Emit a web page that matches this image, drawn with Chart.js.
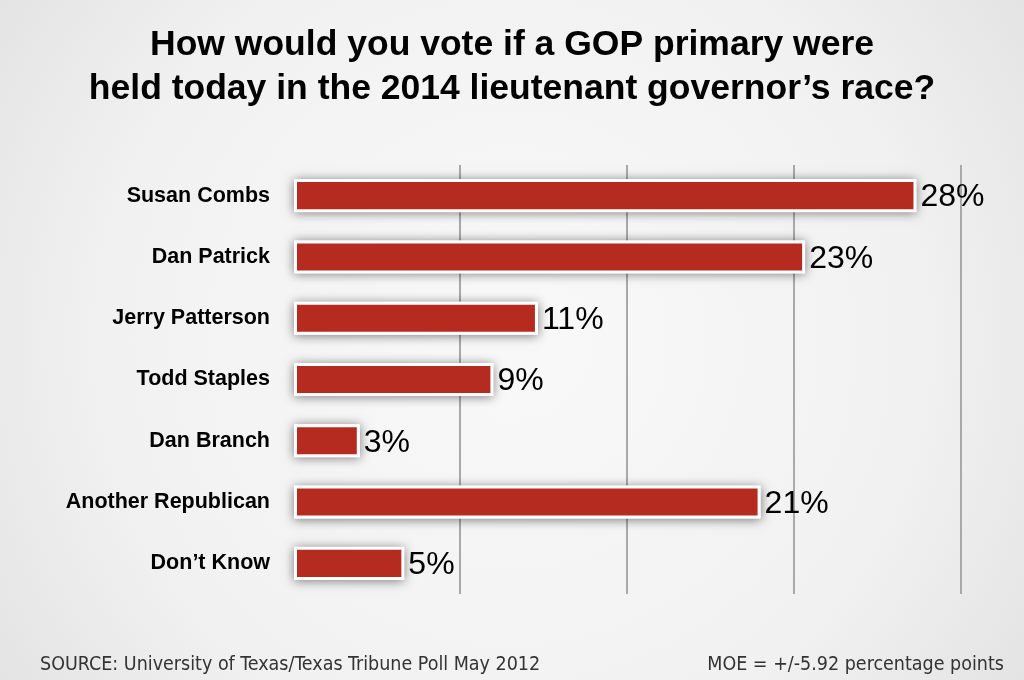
<!DOCTYPE html>
<html>
<head>
<meta charset="utf-8">
<script src="https://cdn.jsdelivr.net/npm/chart.js@4.4.1/dist/chart.umd.min.js"></script>
<style>
  html, body { margin: 0; padding: 0; background: #efefef; }
  #wrap { width: 1024px; height: 680px; }
</style>
</head>
<body>
<div id="wrap"><canvas id="pollChart" width="1024" height="680"></canvas></div>
<script>
// data
var candidates = ['Susan Combs', 'Dan Patrick', 'Jerry Patterson', 'Todd Staples',
                  'Dan Branch', 'Another Republican', 'Don\u2019t Know'];
var votePct = [28, 23, 11, 9, 3, 21, 5];
var titleLines = ['How would you vote if a GOP primary were',
                  'held today in the 2014 lieutenant governor\u2019s race?'];
var sourceNote = 'SOURCE: University of Texas/Texas Tribune Poll May 2012';
var moeNote = 'MOE = +/-5.92 percentage points';

var FONT = '"Liberation Sans", Arial, sans-serif';
var NARROW = '"DejaVu Sans Condensed", "Liberation Sans Narrow", sans-serif';

// paper background + title + footer
var paper = {
    id: 'paper',
    beforeDraw: function (chart) {
        var c = chart.ctx, w = chart.width, h = chart.height;
        c.save();
        var g = c.createRadialGradient(w / 2, h / 2, 60, w / 2, h / 2, 640);
        g.addColorStop(0, '#f8f8f8');
        g.addColorStop(0.6, '#f1f1f1');
        g.addColorStop(1, '#e2e2e2');
        c.fillStyle = g;
        c.fillRect(0, 0, w, h);

        c.fillStyle = '#000';
        c.textAlign = 'center';
        c.textBaseline = 'middle';
        c.font = 'bold 35.5px ' + FONT;
        c.fillText(titleLines[0], w / 2, 45);
        c.fillText(titleLines[1], w / 2, 89);

        c.fillStyle = '#333';
        c.font = '19.5px ' + NARROW;
        c.textBaseline = 'alphabetic';
        c.textAlign = 'left';
        c.fillText(sourceNote, 40, 670);
        c.textAlign = 'right';
        c.fillText(moeNote, 1004, 670);
        c.restore();
    }
};

// soft shadow under the bars, drawn from the bar elements' own geometry
var barShadow = {
    id: 'barShadow',
    beforeDatasetsDraw: function (chart) {
        var c = chart.ctx;
        var meta = chart.getDatasetMeta(0);
        c.save();
        c.shadowColor = 'rgba(0,0,0,0.5)';
        c.shadowBlur = 10;
        c.shadowOffsetY = 1;
        c.fillStyle = '#ffffff';
        meta.data.forEach(function (bar) {
            var p = bar.getProps(['x', 'y', 'base', 'height'], true);
            c.fillRect(p.base, p.y - p.height / 2, p.x - p.base, p.height);
        });
        c.restore();
    }
};

// percentage labels at the bar ends
var valueLabels = {
    id: 'valueLabels',
    afterDatasetsDraw: function (chart) {
        var c = chart.ctx;
        var meta = chart.getDatasetMeta(0);
        c.save();
        c.fillStyle = '#000';
        c.font = '32px ' + FONT;
        c.textAlign = 'left';
        c.textBaseline = 'middle';
        meta.data.forEach(function (bar, i) {
            c.fillText(votePct[i] + '%', bar.x + 4, bar.y + 2);
        });
        c.restore();
    }
};

var ctx = document.getElementById('pollChart');
var pollChart = new Chart(ctx, {
    type: 'bar',
    data: {
        labels: candidates,
        datasets: [{
            data: votePct,
            backgroundColor: '#b52b1f',
            borderColor: '#ffffff',
            borderWidth: 3,
            borderSkipped: false,
            barPercentage: 0.9,
            categoryPercentage: 0.6
        }]
    },
    options: {
        indexAxis: 'y',
        responsive: false,
        animation: false,
        layout: { padding: { top: 165, right: 63, bottom: 86, left: 0 } },
        plugins: {
            legend: { display: false },
            tooltip: { enabled: false }
        },
        scales: {
            x: {
                min: 0,
                max: 30,
                ticks: { stepSize: 7.5, display: false },
                border: { display: false },
                grid: {
                    drawTicks: false,
                    lineWidth: 2,
                    color: function (c) {
                        return c.tick && c.tick.value === 0 ? 'rgba(0,0,0,0)' : '#a9a9a9';
                    }
                },
                afterFit: function (s) { s.height = 0; }
            },
            y: {
                border: { display: false },
                grid: { display: false, drawTicks: false },
                ticks: {
                    color: '#000',
                    padding: 23,
                    font: { family: FONT, size: 21.5, weight: 'bold' }
                },
                afterFit: function (s) { s.width = 293; }
            }
        }
    },
    plugins: [paper, barShadow, valueLabels]
});
</script>
</body>
</html>
